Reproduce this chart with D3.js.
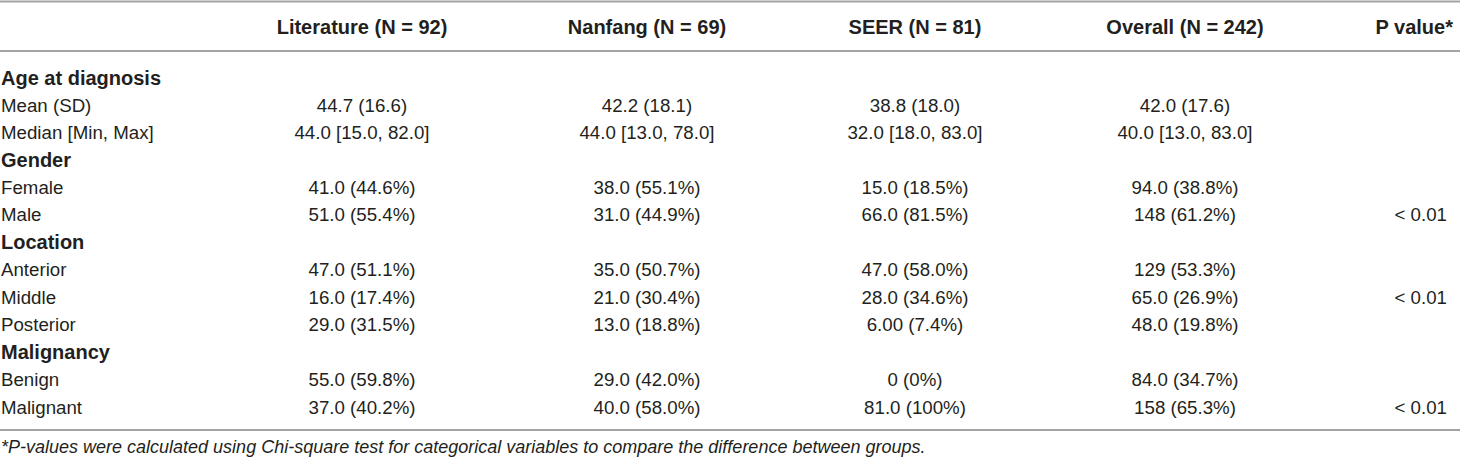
<!DOCTYPE html>
<html>
<head>
<meta charset="utf-8">
<script src="https://cdn.jsdelivr.net/npm/d3@7"></script>
<style>
  body { margin: 0; background: #fff; }
  svg { display: block; font-family: "Liberation Sans", Arial, Helvetica, sans-serif; }
  .txt { fill: #231f20; }
  .rule { stroke: #a3a3a3; stroke-width: 2; }
</style>
</head>
<body>
<svg id="chart" width="1460" height="461"></svg>
<script>
// table content
const columns = ['Literature (N = 92)', 'Nanfang (N = 69)', 'SEER (N = 81)', 'Overall (N = 242)'];
const pHeader = 'P value*';
const groupHeaders = ['Age at diagnosis', 'Gender', 'Location', 'Malignancy'];
const rowLabels = [
  'Age at diagnosis', 'Mean (SD)', 'Median [Min, Max]',
  'Gender', 'Female', 'Male',
  'Location', 'Anterior', 'Middle', 'Posterior',
  'Malignancy', 'Benign', 'Malignant'
];
const literature = ['', '44.7 (16.6)', '44.0 [15.0, 82.0]', '', '41.0 (44.6%)', '51.0 (55.4%)', '', '47.0 (51.1%)', '16.0 (17.4%)', '29.0 (31.5%)', '', '55.0 (59.8%)', '37.0 (40.2%)'];
const nanfang = ['', '42.2 (18.1)', '44.0 [13.0, 78.0]', '', '38.0 (55.1%)', '31.0 (44.9%)', '', '35.0 (50.7%)', '21.0 (30.4%)', '13.0 (18.8%)', '', '29.0 (42.0%)', '40.0 (58.0%)'];
const seer = ['', '38.8 (18.0)', '32.0 [18.0, 83.0]', '', '15.0 (18.5%)', '66.0 (81.5%)', '', '47.0 (58.0%)', '28.0 (34.6%)', '6.00 (7.4%)', '', '0 (0%)', '81.0 (100%)'];
const overall = ['', '42.0 (17.6)', '40.0 [13.0, 83.0]', '', '94.0 (38.8%)', '148 (61.2%)', '', '129 (53.3%)', '65.0 (26.9%)', '48.0 (19.8%)', '', '84.0 (34.7%)', '158 (65.3%)'];
const pValues = ['', '', '', '', '', '< 0.01', '', '', '< 0.01', '', '', '', '< 0.01'];
const footnote = '*P-values were calculated using Chi-square test for categorical variables to compare the difference between groups.';

const series = [literature, nanfang, seer, overall];

const svg = d3.select('#chart');
const width = 1460;

// layout
const colX = d3.scaleOrdinal().domain(columns).range([362, 647, 915, 1185]);
const rowY = d3.scaleLinear().domain([0, rowLabels.length - 1]).range([77.5, 407]);
const headerY = 27;
const pRight = 1453;
const bodySize = '18.7px';

// rules
const rules = [1.5, 51, 430];
svg.selectAll('line.rule')
  .data(rules)
  .join('line')
  .attr('class', 'rule')
  .attr('x1', 0)
  .attr('x2', width)
  .attr('y1', d => d)
  .attr('y2', d => d);

// header
svg.selectAll('text.col-head')
  .data(columns)
  .join('text')
  .attr('class', 'txt col-head')
  .attr('x', d => colX(d))
  .attr('y', headerY)
  .attr('dy', '0.35em')
  .attr('text-anchor', 'middle')
  .style('font-weight', 'bold')
  .style('font-size', '20px')
  .text(d => d);

svg.append('text')
  .attr('class', 'txt')
  .attr('x', pRight)
  .attr('y', headerY)
  .attr('dy', '0.35em')
  .attr('text-anchor', 'end')
  .style('font-weight', 'bold')
  .style('font-size', '20px')
  .text(pHeader);

// row labels
svg.selectAll('text.row-label')
  .data(rowLabels)
  .join('text')
  .attr('class', 'txt row-label')
  .attr('x', 1)
  .attr('y', (d, i) => rowY(i))
  .attr('dy', '0.35em')
  .style('font-weight', d => groupHeaders.includes(d) ? 'bold' : 'normal')
  .style('font-size', d => groupHeaders.includes(d) ? '20px' : bodySize)
  .text(d => d);

// value cells
series.forEach((values, c) => {
  svg.append('g')
    .selectAll('text')
    .data(values)
    .join('text')
    .attr('class', 'txt')
    .attr('x', colX(columns[c]))
    .attr('y', (d, i) => rowY(i))
    .attr('dy', '0.35em')
    .attr('text-anchor', 'middle')
    .style('font-size', bodySize)
    .text(d => d);
});

svg.append('g')
  .selectAll('text')
  .data(pValues)
  .join('text')
  .attr('class', 'txt')
  .attr('x', pRight - 6)
  .attr('y', (d, i) => rowY(i))
  .attr('dy', '0.35em')
  .attr('text-anchor', 'end')
  .style('font-size', bodySize)
  .text(d => d);

// footnote
svg.append('text')
  .attr('class', 'txt')
  .attr('x', 1)
  .attr('y', 447)
  .attr('dy', '0.35em')
  .style('font-style', 'italic')
  .style('font-size', '18px')
  .text(footnote);
</script>
</body>
</html>
